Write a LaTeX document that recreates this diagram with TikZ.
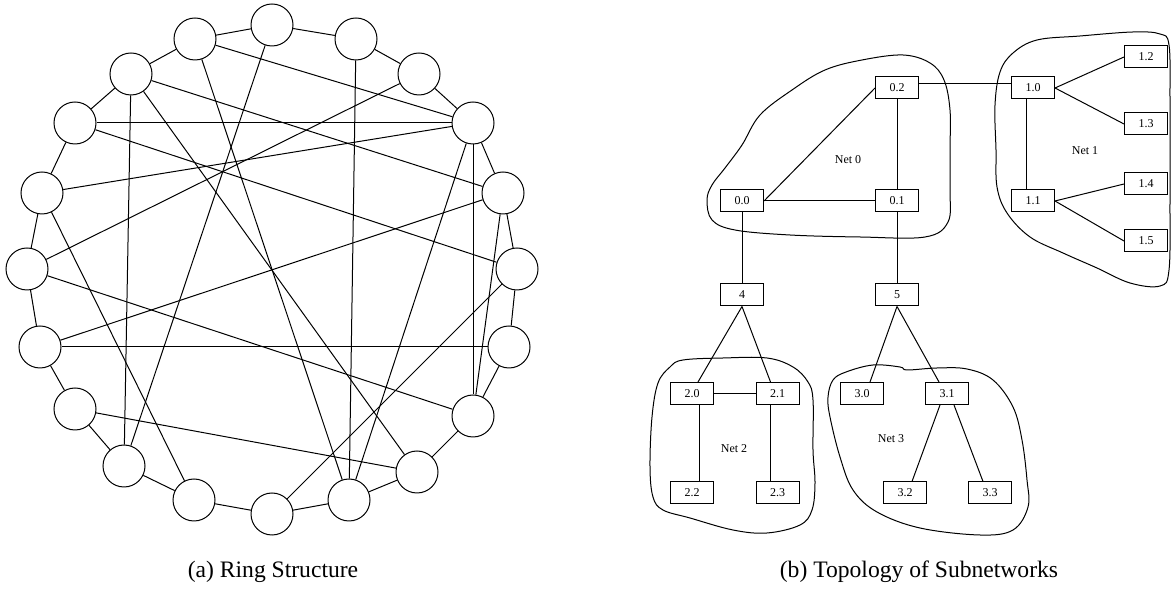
\documentclass[tikz,border=0pt]{standalone}
\usepackage{fontspec}
\setmainfont{Liberation Serif}
\begin{document}
\begin{tikzpicture}[x=0.5pt,y=-0.5pt,
  ringnode/.style={draw, circle, minimum size=21pt, inner sep=0pt, line width=0.5pt},
  netbox/.style={draw, rectangle, minimum width=21.5pt, minimum height=11pt, inner sep=0pt, line width=0.5pt, font=\fontsize{6}{7}\selectfont},
  link/.style={line width=0.5pt},
  blob/.style={line width=0.5pt},
  netlabel/.style={font=\fontsize{6}{7}\selectfont},
  captext/.style={font=\fontsize{11.8}{14}\selectfont}]
\useasboundingbox (0,0) rectangle (1172,597);

% ---------- (a) ring ----------
\foreach \i/\x/\y in {0/272/25, 1/356/39, 2/419/74, 3/473/123, 4/503/193,
  5/517/269, 6/509/347, 7/473/416, 8/417/472, 9/349/500, 10/272/514,
  11/194/500, 12/124/466, 13/75/409, 14/40/347, 15/27/269, 16/42/193,
  17/75/123, 18/131/74, 19/195/39}
  \node[ringnode] (r\i) at (\x,\y) {};
\foreach \i [evaluate=\i as \j using {int(mod(\i+1,20))}] in {0,...,19}
  \draw[link] (r\i) -- (r\j);
\foreach \a/\b in {0/12, 1/9, 2/15, 3/19, 3/17, 3/16, 3/9, 3/7, 4/18, 4/14,
  4/7, 5/17, 5/10, 6/14, 8/18, 8/13, 9/19, 11/16, 12/18, 7/15}
  \draw[link] (r\a) -- (r\b);
\node[captext] (capa) at (273,572) {(a) Ring Structure};

% ---------- (b) topology ----------
\node[netbox] (n02) at (897,88) {0.2};
\node[netbox] (n00) at (742,201) {0.0};
\node[netbox] (n01) at (897,201) {0.1};
\node[netbox] (n4) at (742,295) {4};
\node[netbox] (n5) at (897,295) {5};
\node[netbox] (n10) at (1033,88) {1.0};
\node[netbox] (n11) at (1033,201) {1.1};
\node[netbox] (n12) at (1146,57) {1.2};
\node[netbox] (n13) at (1146,124) {1.3};
\node[netbox] (n14) at (1146,184) {1.4};
\node[netbox] (n15) at (1146,241) {1.5};
\node[netbox] (n20) at (692,393.5) {2.0};
\node[netbox] (n21) at (777.5,393.5) {2.1};
\node[netbox] (n22) at (692,493) {2.2};
\node[netbox] (n23) at (777.5,493) {2.3};
\node[netbox] (n30) at (862,393.5) {3.0};
\node[netbox] (n31) at (947,393.5) {3.1};
\node[netbox] (n32) at (905,493) {3.2};
\node[netbox] (n33) at (990,493) {3.3};

\node[netlabel] (l0) at (848,160) {Net 0};
\node[netlabel] (l1) at (1085,151) {Net 1};
\node[netlabel] (l2) at (734,449) {Net 2};
\node[netlabel] (l3) at (891,439) {Net 3};

% links
\draw[link] (n00) -- (n01);
\draw[link] (n00.east) -- (n02.west);
\draw[link] (n02) -- (n01);
\draw[link] ([yshift=2pt]n02.east) -- ([yshift=2pt]n10.west);
\draw[link] ([xshift=-3.5pt]n10.south) -- ([xshift=-3.5pt]n11.north);
\draw[link] (n10.east) -- (n12.west);
\draw[link] (n10.east) -- (n13.west);
\draw[link] (n11.east) -- (n14.west);
\draw[link] (n11.east) -- (n15.west);
\draw[link] (n00) -- (n4);
\draw[link] (n01) -- (n5);
\draw[link] (n4.south) -- ([xshift=3pt]n20.north);
\draw[link] (n4.south) -- ([xshift=-3.5pt]n21.north);
\draw[link] (n20) -- (n21);
\draw[link] ([xshift=3.5pt]n20.south) -- ([xshift=3.5pt]n22.north);
\draw[link] ([xshift=-3.5pt]n21.south) -- ([xshift=-3.5pt]n23.north);
\draw[link] (n5.south) -- ([xshift=4pt]n30.north);
\draw[link] (n5.south) -- ([xshift=-4pt]n31.north);
\draw[link] ([xshift=-3.5pt]n31.south) -- ([xshift=3.5pt]n32.north);
\draw[link] ([xshift=3.5pt]n31.south) -- ([xshift=-3.5pt]n33.north);

% blobs
\draw[blob] plot[smooth cycle, tension=0.6] coordinates {
  (903,55) (930,63) (944,80) (950,110) (950,150) (950,190) (948,222)
  (925,237) (860,237) (790,235) (735,230) (712,220) (707,200) (712,185)
  (725,168) (742,145) (760,115) (792,90) (825,70) (862,60)};
\draw[blob] plot[smooth cycle, tension=0.6] coordinates {
  (1013,53) (1037,40) (1080,36) (1133,32) (1160,34) (1169,45) (1170,100)
  (1170,200) (1169,270) (1160,286) (1130,283) (1097,268) (1063,253)
  (1030,237) (1007,213) (997,187) (996,150) (995,105) (1000,72)};
\draw[blob] plot[smooth cycle, tension=0.6] coordinates {
  (670,367) (683,360) (723,358) (767,358) (793,367) (808,382) (813,400)
  (813,450) (815,483) (812,510) (800,525) (767,533) (733,530) (690,518)
  (663,510) (653,497) (650,467) (652,417) (658,383)};
\draw[blob] plot[smooth cycle, tension=0.6] coordinates {
  (833,380) (846,372) (873,365) (900,367) (907,370) (937,368) (967,369)
  (993,380) (1013,407) (1022,440) (1027,480) (1028,507) (1013,530)
  (980,535) (920,528) (877,512) (853,490) (840,457) (830,417) (828,397)};

\node[captext] (capb) at (919,572) {(b) Topology of Subnetworks};
\end{tikzpicture}
\end{document}
